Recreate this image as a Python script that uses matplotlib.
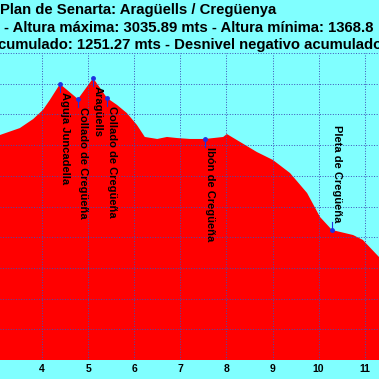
import matplotlib.pyplot as plt

# Perfil de elevación (distancia en km, altura en m)
distancia = [3.00, 3.09, 3.52, 3.81, 4.02, 4.17, 4.39, 4.78, 5.11, 5.41, 5.63, 5.84,
             6.06, 6.23, 6.50, 6.71, 6.93, 7.21, 7.54, 7.93, 8.01, 8.30, 8.66,
             9.01, 9.38, 9.75, 10.03, 10.29, 10.75, 10.96, 11.31, 11.40]
altura = [2660, 2666, 2711, 2770, 2829, 2894, 2998, 2900, 3036, 2907, 2861, 2809,
          2731, 2653, 2640, 2653, 2646, 2640, 2640, 2653, 2672, 2620, 2555,
          2503, 2418, 2288, 2132, 2047, 2014, 1982, 1871, 1820]

# Puntos de paso
wp_nombres = ["Aguja Juncadella", "Collado de Cregüeña", "Aragüells",
              "Collado de Cregüeña", "Ibón de Cregüeña", "Pleta de Cregüeña"]
wp_dist = [4.39, 4.78, 5.11, 5.41, 7.54, 10.29]
wp_alt = [2998, 2900, 3036, 2907, 2640, 2047]
wp_arriba = [False, False, False, False, False, True]

titulo = ["Plan de Senarta: Aragüells / Cregüenya",
          "- Altura máxima: 3035.89 mts - Altura mínima: 1368.8",
          "cumulado: 1251.27 mts - Desnivel negativo acumulado"]

cian = '#80FFFF'
fuente = 'Liberation Sans'

fig = plt.figure(figsize=(3.79, 3.79), dpi=100, facecolor=cian)
ax = fig.add_axes([0, 19 / 379, 1, 307 / 379])
ax.set_facecolor(cian)

ax.fill_between(distancia, altura, 1200, color='#FF0000', lw=0, zorder=1)

ax.set_xlim(3.089, 11.31)
ax.set_ylim(1200, 3200)
ax.set_xticks(range(4, 12))
ax.set_yticks(range(1200, 3201, 200))
ax.grid(True, color='#4050B8', linestyle=':', linewidth=0.7, zorder=2)
ax.set_axisbelow(False)
for s in ax.spines.values():
    s.set_visible(False)
ax.tick_params(length=0, labelleft=False, pad=3)
for t in ax.get_xticklabels():
    t.set_fontfamily(fuente)
    t.set_fontweight('bold')
    t.set_fontsize(7.5)

# Etiquetas de los puntos de paso
dy = 50
for nombre, x, y, arriba in zip(wp_nombres, wp_dist, wp_alt, wp_arriba):
    if arriba:
        ax.plot([x, x], [y, y + dy], color='#2030E0', lw=0.8, zorder=3)
        ax.text(x, y + dy, nombre, rotation=270, ha='left', va='bottom',
                fontsize=8, fontweight='bold', fontfamily=fuente, zorder=4)
    else:
        ax.plot([x, x], [y, y - dy], color='#2030E0', lw=0.8, zorder=3)
        ax.text(x, y - dy, nombre, rotation=270, ha='left', va='top',
                fontsize=8, fontweight='bold', fontfamily=fuente, zorder=4)
    ax.plot(x, y, 'o', color='#2030E0', ms=2.5, zorder=5)

# Título
posiciones = [(0, 10), (4, 28), (-2, 45)]
for linea, (px, py) in zip(titulo, posiciones):
    fig.text(px / 379, 1 - py / 379, linea, ha='left', va='center',
             fontsize=10.7, fontweight='bold', fontfamily=fuente)

fig.savefig('out.png', dpi=100, facecolor=cian)
